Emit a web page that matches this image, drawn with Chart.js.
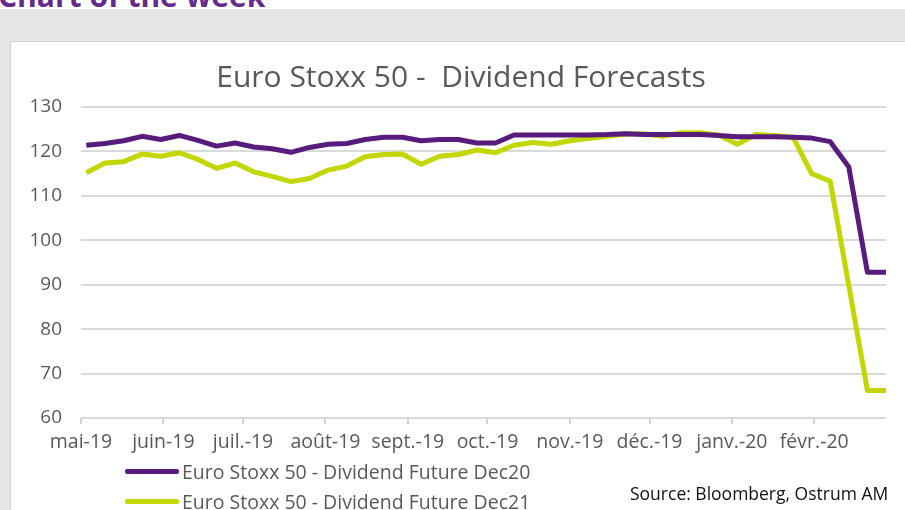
<!DOCTYPE html>
<html>
<head>
<meta charset="utf-8">
<script src="https://cdn.jsdelivr.net/npm/chart.js@4/dist/chart.umd.min.js"></script>
<style>
  html, body { margin: 0; padding: 0; background: #fff; overflow: hidden; }
  body { width: 905px; height: 510px; position: relative; font-family: "Open Sans", sans-serif; }
  #heading { position: absolute; left: -2px; top: -19px; font-size: 30px; font-weight: bold; color: #652b8c; line-height: 30px; white-space: nowrap; }
  #band { position: absolute; left: 0; top: 9px; width: 905px; height: 501px; background: #e6e6e6; }
  #panel { position: absolute; left: 10px; top: 41px; width: 900px; height: 480px; background: #fff; border-top: 1px solid #d2d2d2; border-left: 1px solid #d2d2d2; }
  #wrap { position: absolute; left: 0; top: 0; width: 905px; height: 510px; }
  #legend { position: absolute; left: 125px; top: 456px; }
  .item { height: 30px; display: flex; align-items: center; font-size: 19.5px; color: #595959; white-space: nowrap; }
  .swatch { width: 54px; height: 5px; margin-right: 3px; border-radius: 2px; }
  #source { position: absolute; left: 630px; top: 481px; font-size: 17.5px; color: #111; white-space: nowrap; }
</style>
</head>
<body>
<div id="heading">Chart of the week</div>
<div id="band"></div>
<div id="panel"></div>
<div id="wrap"><canvas id="chart"></canvas></div>
<div id="legend"></div>
<div id="source">Source: Bloomberg, Ostrum AM</div>
<script>
// weekly dates (Fridays)
const dates = ['2019-05-03', '2019-05-10', '2019-05-17', '2019-05-24', '2019-05-31',
  '2019-06-07', '2019-06-14', '2019-06-21', '2019-06-28',
  '2019-07-05', '2019-07-12', '2019-07-19', '2019-07-26',
  '2019-08-02', '2019-08-09', '2019-08-16', '2019-08-23', '2019-08-30',
  '2019-09-06', '2019-09-13', '2019-09-20', '2019-09-27',
  '2019-10-04', '2019-10-11', '2019-10-18', '2019-10-25',
  '2019-11-01', '2019-11-08', '2019-11-15', '2019-11-22', '2019-11-29',
  '2019-12-06', '2019-12-13', '2019-12-20', '2019-12-27',
  '2020-01-03', '2020-01-10', '2020-01-17', '2020-01-24', '2020-01-31',
  '2020-02-07', '2020-02-14', '2020-02-21', '2020-02-28'];

const dec20 = [121.4, 121.8, 122.4, 123.4, 122.7, 123.6, 122.5, 121.2, 121.9, 121.0,
  120.6, 119.8, 120.9, 121.6, 121.8, 122.7, 123.2, 123.2, 122.4, 122.7,
  122.7, 121.9, 121.9, 123.7, 123.7, 123.7, 123.7, 123.7, 123.8, 124.0,
  123.8, 123.8, 123.8, 123.8, 123.6, 123.3, 123.3, 123.3, 123.2, 123.0,
  122.2, 116.5, 92.8, 92.8];

const dec21 = [115.2, 117.4, 117.7, 119.4, 118.9, 119.7, 118.2, 116.2, 117.4, 115.4,
  114.4, 113.2, 113.9, 115.8, 116.7, 118.8, 119.3, 119.4, 117.1, 118.9,
  119.3, 120.3, 119.7, 121.4, 122.0, 121.6, 122.4, 122.9, 123.4, 123.9,
  124.0, 123.4, 124.2, 124.2, 123.7, 121.6, 123.8, 123.6, 123.2, 115.0,
  113.3, 89.8, 66.2, 66.2];

const monthStarts = ['2019-05-01', '2019-06-01', '2019-07-01', '2019-08-01', '2019-09-01',
  '2019-10-01', '2019-11-01', '2019-12-01', '2020-01-01', '2020-02-01'];
const monthLabels = ['mai-19', 'juin-19', 'juil.-19', 'août-19', 'sept.-19',
  'oct.-19', 'nov.-19', 'déc.-19', 'janv.-20', 'févr.-20'];

const seriesNames = ['Euro Stoxx 50 - Dividend Future Dec20', 'Euro Stoxx 50 - Dividend Future Dec21'];
const seriesColors = ['#581c7c', '#c2d600'];

const base = Date.parse(monthStarts[0]);
const toDay = d => (Date.parse(d) - base) / 86400000;
const tickDays = monthStarts.map(toDay);

function points(vals) {
    return vals.map((v, i) => ({ x: toDay(dates[i]), y: v }));
}

const ctx = document.getElementById('chart').getContext('2d');

const myChart = new Chart(ctx, {
    type: 'line',
    data: {
        datasets: [dec20, dec21].map((vals, i) => ({
            label: seriesNames[i],
            data: points(vals),
            borderColor: seriesColors[i],
            backgroundColor: seriesColors[i],
            borderWidth: 5,
            pointRadius: 0,
            tension: 0,
            borderJoinStyle: 'round'
        }))
    },
    options: {
        responsive: true,
        maintainAspectRatio: false,
        animation: false,
        layout: { padding: { left: 17, right: 0, top: 0, bottom: 0 } },
        plugins: {
            legend: { display: false },
            tooltip: { enabled: false },
            title: {
                display: true,
                text: 'Euro Stoxx 50 -  Dividend Forecasts',
                color: '#595959',
                font: { family: 'Open Sans', size: 30, weight: 'normal', lineHeight: 1 },
                padding: { top: 63, bottom: 14 }
            }
        },
        scales: {
            x: {
                type: 'linear',
                min: 0,
                max: toDay(dates[dates.length - 1]),
                afterBuildTicks: axis => { axis.ticks = tickDays.map(v => ({ value: v })); },
                afterFit: axis => { axis.height = 92; },
                ticks: {
                    autoSkip: false,
                    maxRotation: 0,
                    padding: 7,
                    color: '#595959',
                    font: { family: 'Open Sans', size: 19.5 },
                    callback: v => monthLabels[tickDays.indexOf(v)]
                },
                grid: { drawOnChartArea: false, drawTicks: true, tickLength: 6, color: '#d4d4d4', lineWidth: 2 },
                border: { display: false }
            },
            y: {
                min: 60,
                max: 130,
                afterFit: axis => { axis.width = 64; },
                ticks: {
                    stepSize: 10,
                    padding: 19,
                    color: '#595959',
                    font: { family: 'Open Sans', size: 19 }
                },
                grid: { color: '#dadada', lineWidth: 2, drawTicks: false },
                border: { display: false }
            },
            // empty right margin so the plot stops short of the edge
            yRight: {
                position: 'right',
                afterFit: axis => { axis.width = 19; },
                ticks: { display: false },
                grid: { display: false },
                border: { display: false }
            }
        }
    }
});

// legend below the chart, vertical like the original
const legend = document.getElementById('legend');
myChart.data.datasets.forEach(ds => {
    const row = document.createElement('div');
    row.className = 'item';
    const sw = document.createElement('span');
    sw.className = 'swatch';
    sw.style.background = ds.borderColor;
    row.appendChild(sw);
    row.appendChild(document.createTextNode(ds.label));
    legend.appendChild(row);
});
</script>
</body>
</html>
